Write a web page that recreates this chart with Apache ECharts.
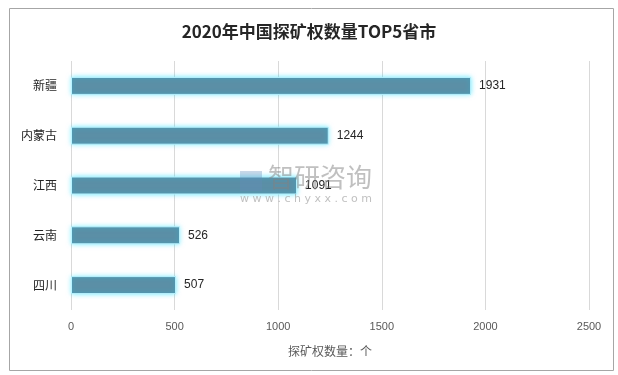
<!DOCTYPE html>
<html><head><meta charset="utf-8">
<script src="https://cdn.jsdelivr.net/npm/echarts@6/dist/echarts.min.js"></script>
<style>html,body{margin:0;padding:0;background:#fff}#c{width:618px;height:375px}</style>
</head><body><div id="c"></div>
<script>
var categories = ['新疆', '内蒙古', '江西', '云南', '四川'];
var values = [1931, 1244, 1091, 526, 507];
var titleText = '2020年中国探矿权数量TOP5省市';
var axisName = '探矿权数量：个';

var chart = echarts.init(document.getElementById('c'));
chart.setOption({
  animation: false,
  title: {
    text: titleText, left: 'center', top: 18,
    textStyle: {fontFamily: 'Noto Sans CJK SC', fontSize: 17, fontWeight: 'bold', color: '#262626'}
  },
  graphic: [
    {type: 'rect', shape: {x: 9.5, y: 8.5, width: 604, height: 362}, style: {fill: 'none', stroke: '#a6a6a6', lineWidth: 1}, z: -1},
    {type: 'rect', shape: {x: 240, y: 171, width: 22, height: 20}, style: {fill: 'rgba(100,140,185,0.35)'}, z: 100},
    {type: 'text', left: 268, top: 164, style: {text: '智研咨询', font: '26px "Noto Sans CJK SC"', fill: 'rgba(130,130,130,0.5)'}, z: 100},
    {type: 'text', left: 240, top: 194, style: {text: 'w w w . c h y x x . c o m', font: '11px "DejaVu Sans"', fill: 'rgba(150,150,150,0.6)'}, z: 100}
  ],
  grid: {left: 71, right: 29, top: 61, bottom: 65, containLabel: false},
  xAxis: {
    type: 'value', min: 0, max: 2500, interval: 500,
    name: axisName, nameLocation: 'middle', nameGap: 35,
    nameTextStyle: {fontFamily: 'Noto Sans CJK SC', fontSize: 12, color: '#595959'},
    axisLine: {show: false}, axisTick: {show: false},
    axisLabel: {color: '#595959', fontSize: 11, fontFamily: 'Liberation Sans', margin: 11, formatter: function (v) { return String(v); }},
    splitLine: {lineStyle: {color: '#d9d9d9'}}
  },
  yAxis: {
    type: 'category', data: categories, inverse: true,
    axisLine: {show: false}, axisTick: {show: false},
    axisLabel: {color: '#262626', fontSize: 12, fontFamily: 'Noto Sans CJK SC', margin: 14}
  },
  series: [{
    type: 'bar', data: values, barWidth: 18,
    itemStyle: {color: '#5b8fa6', borderColor: '#b9f3ff', borderWidth: 1, shadowColor: 'rgba(0,220,255,0.55)', shadowBlur: 5},
    label: {show: true, position: 'right', distance: 8, color: '#262626', fontSize: 12, fontFamily: 'Liberation Sans'}
  }]
});
</script></body></html>
